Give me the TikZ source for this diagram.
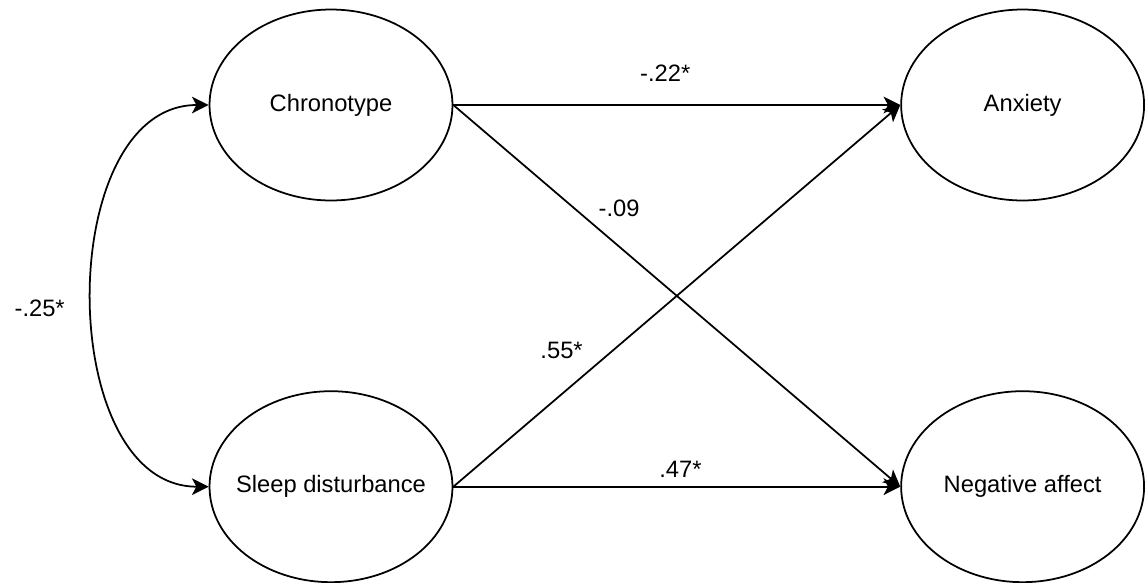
\documentclass[tikz,border=0pt]{standalone}
\usepackage{fontspec}
\setmainfont{Liberation Sans}
\usetikzlibrary{positioning, arrows.meta, shapes.geometric}

\begin{document}
\begin{tikzpicture}[
        x=0.02cm, y=-0.02cm,
        latent/.style={
            ellipse,
            draw,
            line width=1pt,
            inner xsep=-8pt,
            inner ysep=0pt,
            minimum width=4.86cm,
            minimum height=3.82cm,
            font=\fontsize{13.5}{16}\selectfont
        },
        arrow/.style={-{Stealth[length=9.5pt, width=9.5pt, inset=2.5pt]}, line width=1pt},
        coef/.style={font=\fontsize{13.5}{16}\selectfont},
        node distance=3.78cm and 8.94cm
    ]

    \useasboundingbox (0,0) rectangle (1146,582);

    % Predictores
    \node[latent] at (331,105) (chrono) {Chronotype};
    \node[latent, below=of chrono] (sleep) {Sleep disturbance};

    % Resultados
    \node[latent, right=of chrono] (anx) {Anxiety};
    \node[latent, right=of sleep] (negaff) {Negative affect};

    % Flechas
    \draw[arrow] (chrono.east) -- node[coef, pos=0.474, above=9.5pt]{-.22*} (anx.west);
    \draw[arrow] (chrono.east) -- node[coef, pos=0.31, above right]{-.09} (negaff.west);
    \draw[arrow] (sleep.east) -- node[coef, pos=0.31, above left=2pt]{.55*} (anx.west);
    \draw[arrow] (sleep.east) -- node[coef, pos=0.508, above=1.2pt]{.47*} (negaff.west);
    \draw[arrow, {Stealth[length=9.5pt, width=9.5pt, inset=2.5pt]}-{Stealth[length=9.5pt, width=9.5pt, inset=2.5pt]}]
        (chrono.west) to[out=180, in=180, looseness=1.04]
        node[coef, left=12pt, yshift=-7pt]{-.25*} (sleep.west);

\end{tikzpicture}
\end{document}
